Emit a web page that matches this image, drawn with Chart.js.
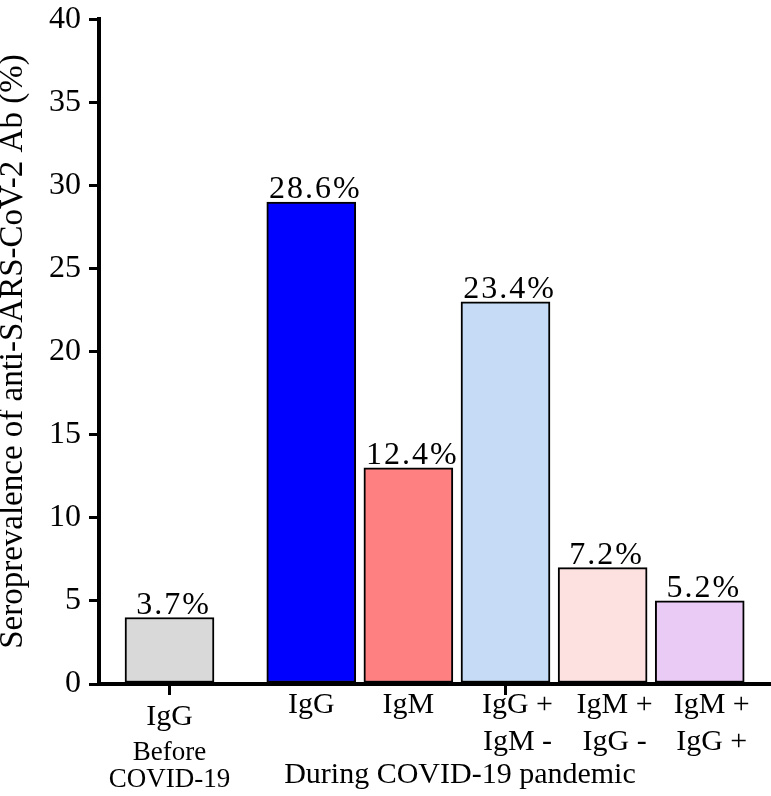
<!DOCTYPE html>
<html>
<head>
<meta charset="utf-8">
<script src="https://cdn.jsdelivr.net/npm/chart.js@4/dist/chart.umd.min.js"></script>
<style>
  html, body { margin: 0; padding: 0; background: #fff; }
  canvas { display: block; }
</style>
</head>
<body>
<canvas id="seroChart" width="771" height="796"></canvas>
<script>
// data
const categories = [["IgG"], ["IgG"], ["IgM"], ["IgG +", "IgM -"], ["IgM +", "IgG -"], ["IgM +", "IgG +"]];
const barValues = [4, 29, 13, 23, 7, 5];
const valueLabels = ["3.7%", "28.6%", "12.4%", "23.4%", "7.2%", "5.2%"];
const periodBefore = ["Before", "COVID-19"];
const periodDuring = "During COVID-19 pandemic";
const yTitle = "Seroprevalence of anti-SARS-CoV-2 Ab (%)";
const yMax = 40;
const yStep = 5;

const barColors = ["#d9d9d9", "#0000ff", "#ff8080", "#c6dcf6", "#fde0e0", "#eacbf5"];

// extra space between the "before" bar and the pandemic group
const groupGap = 0.46;
const xPos = categories.map((c, i) => (i > 0 ? i + groupGap : i));

const serif = '"Liberation Serif", "Times New Roman", serif';

const labelPlugin = {
  id: "labels",
  afterDatasetsDraw(chart) {
    const ctx = chart.ctx;
    const meta = chart.getDatasetMeta(0);
    const xScale = chart.scales.x;
    const bottom = chart.chartArea.bottom;
    ctx.save();
    ctx.fillStyle = "#000";
    ctx.textAlign = "center";
    ctx.textBaseline = "alphabetic";

    // values above bars
    ctx.font = "32px " + serif;
    ctx.letterSpacing = "2px";
    meta.data.forEach((bar, i) => {
      ctx.fillText(valueLabels[i], bar.x + 4, bar.y - 4);
    });
    ctx.letterSpacing = "0px";

    // category labels
    categories.forEach((lines, i) => {
      const px = xScale.getPixelForValue(xPos[i]);
      ctx.font = "30px " + serif;
      if (i === 0) {
        ctx.fillText(lines[0], px, bottom + 41);
        ctx.font = "27px " + serif;
        ctx.fillText(periodBefore[0], px, bottom + 76);
        ctx.fillText(periodBefore[1], px, bottom + 103);
      } else {
        const shift = lines.length > 1 ? 12 : 0;
        lines.forEach((t, j) => {
          ctx.fillText(t, px + shift, bottom + 29 + j * 37);
        });
      }
    });

    // group label under the pandemic bars
    ctx.font = "30px " + serif;
    const gx = (xScale.getPixelForValue(xPos[1]) + xScale.getPixelForValue(xPos[4])) / 2;
    ctx.fillText(periodDuring, gx + 3, bottom + 99);

    // x tick marks under the first bar and the IgG+/IgM- bar
    ctx.fillStyle = "#000";
    [xPos[0], xPos[3]].forEach((v) => {
      const tx = xScale.getPixelForValue(v);
      ctx.fillRect(tx - 1.5, bottom + 2, 3, 9);
    });
    ctx.restore();
  }
};

const data = {
  datasets: [
    {
      data: barValues.map((v, i) => ({ x: xPos[i], y: v })),
      backgroundColor: barColors,
      borderColor: "#000",
      borderWidth: 2,
      borderSkipped: false,
      barThickness: 89,
    },
  ],
};

const config = {
  type: "bar",
  data: data,
  options: {
    responsive: false,
    animation: false,
    layout: { padding: { top: 12, right: 0, bottom: 0, left: 0 } },
    plugins: {
      legend: { display: false },
      tooltip: { enabled: false },
    },
    scales: {
      x: {
        type: "linear",
        offset: false,
        bounds: "data",
        min: -0.726,
        max: 6.194,
        afterFit: (scale) => {
          scale.height = 112;
        },
        ticks: { display: false },
        grid: { display: false },
        border: { display: true, width: 4, color: "#000" },
      },
      y: {
        min: 0,
        max: yMax,
        afterFit: (scale) => {
          scale.width = 99;
        },
        ticks: {
          stepSize: yStep,
          padding: 8,
          color: "#000",
          font: { family: serif, size: 32, lineHeight: 0.7 },
        },
        grid: {
          drawOnChartArea: false,
          drawTicks: true,
          tickLength: 10,
          lineWidth: 3,
          color: "#000",
        },
        border: { display: true, width: 4, color: "#000" },
        title: {
          display: true,
          text: yTitle,
          color: "#000",
          padding: 0,
          font: { family: serif, size: 33, lineHeight: 0.8 },
        },
      },
    },
  },
  plugins: [labelPlugin],
};

const seroChart = new Chart(document.getElementById("seroChart").getContext("2d"), config);
</script>
</body>
</html>
